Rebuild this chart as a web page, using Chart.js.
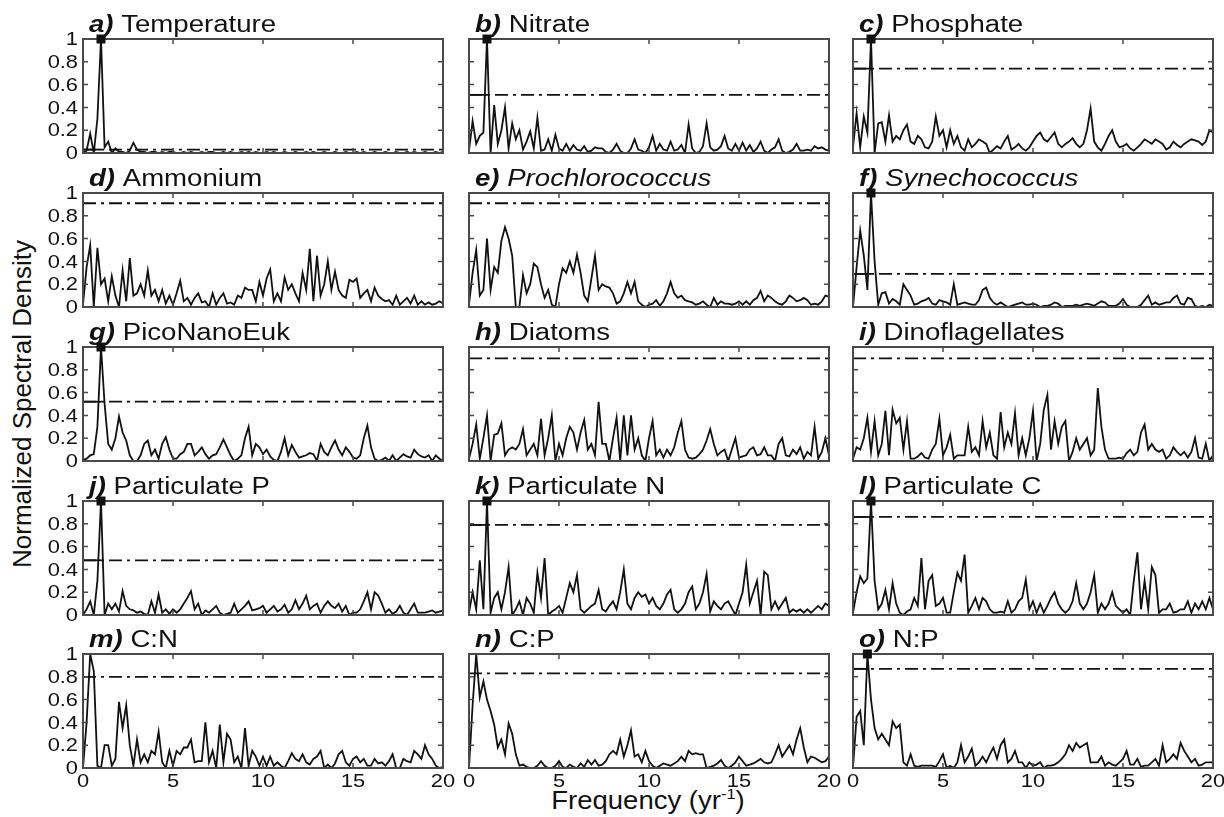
<!DOCTYPE html>
<html>
<head>
<meta charset="utf-8">
<script src="https://cdn.jsdelivr.net/npm/chart.js@4.4.0/dist/chart.umd.min.js"></script>
<style>
body { margin: 0; background: #fff; }
#wrap { position: relative; width: 1224px; height: 817px; overflow: hidden; background: #fff;
        font-family: "Liberation Sans", Arial, sans-serif; color: #111; }
#wrap canvas { position: absolute; }
#ylab { position: absolute; left: 22px; top: 404px; transform: translate(-50%, -50%) rotate(-90deg);
        font-size: 26px; white-space: nowrap; }
#xlab { position: absolute; left: 648px; top: 800px; transform: translate(-50%, -50%) scaleX(1.1);
        font-size: 25px; white-space: nowrap; }
#xlab sup { font-size: 15px; }
</style>
</head>
<body>
<div id="wrap">
  <div id="ylab">Normalized Spectral Density</div>
  <div id="xlab">Frequency (yr<sup>-1</sup>)</div>
</div>
<script>
// frequency grid (yr^-1)
const FREQ = [
  0, 0.2, 0.4, 0.6, 0.8, 1, 1.2, 1.4, 1.6, 1.8,
  2, 2.2, 2.4, 2.6, 2.8, 3, 3.2, 3.4, 3.6, 3.8,
  4, 4.2, 4.4, 4.6, 4.8, 5, 5.2, 5.4, 5.6, 5.8,
  6, 6.2, 6.4, 6.6, 6.8, 7, 7.2, 7.4, 7.6, 7.8,
  8, 8.2, 8.4, 8.6, 8.8, 9, 9.2, 9.4, 9.6, 9.8,
  10, 10.2, 10.4, 10.6, 10.8, 11, 11.2, 11.4, 11.6, 11.8,
  12, 12.2, 12.4, 12.6, 12.8, 13, 13.2, 13.4, 13.6, 13.8,
  14, 14.2, 14.4, 14.6, 14.8, 15, 15.2, 15.4, 15.6, 15.8,
  16, 16.2, 16.4, 16.6, 16.8, 17, 17.2, 17.4, 17.6, 17.8,
  18, 18.2, 18.4, 18.6, 18.8, 19, 19.2, 19.4, 19.6, 19.8,
  20
];

const temperature = [
  0, 0.02, 0.17, 0, 0.3, 1, 0.05, 0.1, 0, 0.04,
  0.01, 0.01, 0, 0.02, 0.09, 0.03, 0.01, 0.01, 0, 0.01,
  0.01, 0, 0.01, 0, 0.01, 0.01, 0, 0, 0.01, 0,
  0.01, 0, 0, 0.01, 0, 0.01, 0.01, 0, 0, 0.01,
  0, 0.01, 0, 0, 0.01, 0, 0.01, 0, 0.01, 0,
  0, 0.01, 0, 0.01, 0, 0, 0.01, 0, 0, 0.01,
  0, 0, 0.01, 0, 0.01, 0, 0, 0.01, 0, 0,
  0.01, 0, 0, 0.01, 0, 0, 0.01, 0, 0.01, 0,
  0, 0.01, 0, 0, 0.01, 0, 0, 0.01, 0, 0,
  0.01, 0, 0.01, 0, 0, 0.01, 0, 0, 0.01, 0,
  0.01
];
const nitrate = [
  0.02, 0.28, 0.08, 0.15, 0.18, 1, 0, 0.42, 0.08, 0.2,
  0.4, 0.04, 0.26, 0.12, 0.2, 0.03, 0.1, 0.19, 0.04, 0.31,
  0.02, 0.03, 0.12, 0.02, 0.16, 0.04, 0.02, 0.08, 0.02, 0.07,
  0.03, 0.02, 0.06, 0.01, 0.02, 0.05, 0.04, 0.04, 0.01, 0,
  0.03, 0.08, 0.02, 0, 0, 0.04, 0.12, 0.03, 0.02, 0,
  0.05, 0.15, 0.02, 0.08, 0.03, 0.02, 0.1, 0.02, 0.03, 0.07,
  0, 0.25, 0.04, 0, 0.01, 0.06, 0.26, 0.05, 0.02, 0.03,
  0.06, 0.15, 0.04, 0.02, 0.08, 0.02, 0.09, 0.02, 0.07, 0.01,
  0.04, 0.1, 0.02, 0, 0.03, 0.05, 0.12, 0.02, 0, 0.01,
  0.03, 0.08, 0.02, 0.02, 0.03, 0.02, 0.06, 0.04, 0.05, 0.03,
  0.02
];
const phosphate = [
  0.05, 0.35, 0.05, 0.32, 0.18, 1, 0, 0.26, 0.27, 0.1,
  0.33, 0.1, 0.15, 0.12, 0.2, 0.25, 0.1, 0.08, 0.15, 0.12,
  0.05, 0.04, 0.1, 0.32, 0.15, 0.2, 0.05, 0.2, 0.08, 0.15,
  0.05, 0.02, 0.12, 0.05, 0.08, 0.12, 0.1, 0.08, 0, 0.03,
  0.06, 0.04, 0.1, 0.15, 0.03, 0.05, 0.08, 0.04, 0.02, 0.05,
  0.1, 0.15, 0.18, 0.12, 0.1, 0.14, 0.18, 0.08, 0.05, 0.08,
  0.1, 0.13, 0.08, 0.05, 0.08, 0.2, 0.39, 0.1, 0.05, 0.02,
  0.08, 0.15, 0.2, 0.1, 0.05, 0.06, 0.08, 0.04, 0.02, 0.05,
  0.08, 0.12, 0.1, 0.08, 0.12, 0.1, 0.08, 0.03, 0.05, 0.1,
  0.07, 0.05, 0.08, 0.1, 0.12, 0.11, 0.1, 0.07, 0.1, 0.2,
  0.18
];
const ammonium = [
  0.02, 0.35, 0.54, 0, 0.52, 0.2, 0.25, 0.05, 0.27, 0.1,
  0, 0.32, 0.05, 0.43, 0.1, 0.12, 0.2, 0.1, 0.32, 0.1,
  0.15, 0.05, 0.15, 0.03, 0.1, 0.02, 0.12, 0.23, 0.05, 0.08,
  0.02, 0.08, 0.12, 0.04, 0.05, 0, 0.12, 0.02, 0.08, 0.12,
  0.03, 0.04, 0.02, 0.1, 0.08, 0.17, 0.15, 0.15, 0.05, 0.22,
  0.1, 0.25, 0.33, 0.05, 0.12, 0.05, 0.26, 0.15, 0.2, 0.12,
  0.05, 0.3, 0.15, 0.51, 0.05, 0.45, 0.1, 0.2, 0.4, 0.15,
  0.31, 0.15, 0.1, 0.08, 0.24, 0.22, 0.25, 0.08, 0.12, 0.15,
  0.05, 0.17, 0.1, 0.07, 0.05, 0.06, 0.02, 0.1, 0.02, 0.05,
  0.08, 0.03, 0.1, 0.02, 0.05, 0.02, 0.04, 0.02, 0.03, 0.05,
  0.03
];
const prochlorococcus = [
  0.02, 0.3, 0.5, 0.1, 0.15, 0.6, 0.15, 0.35, 0.3, 0.58,
  0.7, 0.6, 0.45, 0, 0, 0.28, 0.12, 0.2, 0.38, 0.35,
  0.2, 0.08, 0.15, 0.02, 0, 0.2, 0.34, 0.3, 0.4, 0.3,
  0.46, 0.3, 0.1, 0.05, 0.25, 0.45, 0.15, 0.2, 0.18, 0.17,
  0.12, 0.03, 0.05, 0.12, 0.22, 0.12, 0.22, 0.05, 0.02, 0,
  0.02, 0.03, 0.06, 0.01, 0.05, 0.12, 0.22, 0.12, 0.08, 0.1,
  0.06, 0.05, 0.04, 0.02, 0.03, 0.05, 0.02, 0, 0.08, 0.02,
  0.05, 0.03, 0.03, 0.02, 0.03, 0.05, 0.02, 0.05, 0.02, 0.06,
  0.08, 0.14, 0.05, 0.1, 0.08, 0.05, 0.03, 0.02, 0.05, 0.1,
  0.08, 0.05, 0.06, 0.08, 0.06, 0.02, 0.03, 0.02, 0.05, 0.1,
  0.09
];
const synechococcus = [
  0, 0.35, 0.67, 0.45, 0.15, 1, 0.4, 0.02, 0.12, 0.13,
  0.03, 0.07, 0.05, 0.02, 0.2, 0.15, 0.1, 0.02, 0.03, 0.05,
  0.06, 0.08, 0.03, 0.02, 0.06, 0.05, 0.04, 0.02, 0.2, 0.02,
  0.03, 0.04, 0.03, 0.02, 0.02, 0.06, 0.15, 0.17, 0.08, 0.04,
  0.02, 0.04, 0.02, 0, 0.01, 0.02, 0.03, 0.04, 0.02, 0.02,
  0.03, 0.02, 0, 0.01, 0.01, 0.02, 0.04, 0.03, 0, 0.01,
  0.01, 0.01, 0.02, 0.01, 0.02, 0.03, 0.02, 0.01, 0.03, 0.05,
  0.04, 0.01, 0.01, 0.01, 0.03, 0.07, 0.02, 0, 0, 0,
  0.02, 0.06, 0.1, 0.02, 0.04, 0.02, 0.03, 0.04, 0.04, 0.08,
  0.1, 0.03, 0.02, 0.08, 0.07, 0.01, 0, 0.01, 0, 0.02,
  0.01
];
const picoNanoEuk = [
  0.01, 0.02, 0.05, 0.06, 0.3, 1, 0.5, 0.15, 0.1, 0.2,
  0.39, 0.25, 0.18, 0.05, 0, 0, 0.05, 0.15, 0.18, 0.05,
  0.1, 0.02, 0.15, 0.21, 0.1, 0.02, 0.02, 0.06, 0.08, 0.15,
  0.15, 0.05, 0.08, 0.12, 0.06, 0.02, 0.05, 0.06, 0.12, 0.19,
  0.12, 0.05, 0, 0.02, 0.05, 0.2, 0.3, 0.05, 0.15, 0.12,
  0.06, 0.1, 0.04, 0.01, 0, 0.08, 0.2, 0.05, 0.14, 0.08,
  0.03, 0.04, 0.05, 0.07, 0.06, 0, 0.15, 0.08, 0.05, 0.12,
  0.18, 0.1, 0.05, 0.12, 0.08, 0.03, 0.02, 0.05, 0.2, 0.31,
  0.12, 0.02, 0, 0.01, 0.03, 0, 0.05, 0, 0.03, 0.06,
  0.04, 0.03, 0.1, 0.06, 0.04, 0.03, 0.05, 0, 0.05, 0.02,
  0
];
const diatoms = [
  0.02, 0.15, 0.32, 0.02, 0.2, 0.4, 0, 0.23, 0.24, 0.33,
  0.05, 0.1, 0.12, 0.1, 0.15, 0.28, 0.05, 0.1, 0.15, 0.05,
  0.37, 0.05, 0.2, 0.4, 0, 0.15, 0.05, 0.2, 0.3, 0.25,
  0.1, 0.25, 0.36, 0.1, 0.15, 0.05, 0.52, 0.15, 0.15, 0,
  0.2, 0.38, 0, 0.4, 0.05, 0.4, 0.1, 0.2, 0.05, 0,
  0.2, 0.35, 0.05, 0.1, 0.03, 0.1, 0.05, 0.12, 0.25, 0.35,
  0.1, 0.03, 0.02, 0.03, 0.06, 0.1, 0.18, 0.28, 0.15, 0.05,
  0.08, 0.1, 0, 0.1, 0.2, 0.03, 0.04, 0.05, 0.1, 0.12,
  0.05, 0.06, 0.12, 0.05, 0.05, 0, 0.15, 0.2, 0.05, 0.04,
  0.1, 0.06, 0.12, 0.02, 0.08, 0.05, 0.3, 0.02, 0.08, 0.2,
  0.05
];
const dinoflagellates = [
  0.02, 0.12, 0.1, 0.2, 0.38, 0.08, 0.35, 0.05, 0.15, 0.44,
  0.05, 0.45, 0.33, 0.38, 0.1, 0.35, 0.02, 0.02, 0.04, 0.07,
  0.03, 0.02, 0.1, 0.15, 0.37, 0.05, 0.12, 0.23, 0.02, 0.05,
  0.05, 0.05, 0.3, 0.08, 0.12, 0.05, 0.35, 0.12, 0.25, 0.05,
  0.02, 0.43, 0.12, 0.25, 0.15, 0.42, 0.05, 0.2, 0.05, 0.2,
  0.44, 0, 0.15, 0.45, 0.58, 0.1, 0.35, 0.15, 0.3, 0.35,
  0, 0.08, 0.2, 0.1, 0.15, 0.2, 0.05, 0.1, 0.64, 0.3,
  0.1, 0.02, 0.02, 0.02, 0.03, 0.02, 0.07, 0.1, 0.05, 0.08,
  0.25, 0.32, 0.1, 0.15, 0.1, 0.08, 0.1, 0.02, 0.05, 0.12,
  0.08, 0.05, 0.08, 0.03, 0.08, 0.2, 0.03, 0.02, 0.15, 0,
  0.05
];
const particulateP = [
  0, 0.05, 0.12, 0, 0.3, 1, 0, 0.1, 0.05, 0.1,
  0.03, 0.21, 0.08, 0.05, 0.04, 0.02, 0.03, 0.01, 0, 0.12,
  0.02, 0.18, 0.02, 0.05, 0.01, 0.05, 0.02, 0.05, 0.1, 0.15,
  0.21, 0.05, 0.1, 0, 0.04, 0.02, 0.05, 0.08, 0.02, 0,
  0.01, 0.02, 0.1, 0.02, 0.05, 0.08, 0.12, 0.04, 0.05, 0.06,
  0.08, 0.02, 0.05, 0.08, 0.03, 0.05, 0.09, 0.02, 0.05, 0.13,
  0.05, 0.1, 0.17, 0.05, 0.08, 0.1, 0.02, 0.08, 0.12, 0.08,
  0.06, 0.1, 0.03, 0.08, 0, 0.02, 0.02, 0.05, 0.12, 0.2,
  0.05, 0.2, 0.17, 0.1, 0.02, 0.05, 0.01, 0.03, 0.08, 0.02,
  0, 0.05, 0.1, 0.02, 0.02, 0.02, 0.03, 0.04, 0.02, 0.03,
  0.04
];
const particulateN = [
  0.02, 0.2, 0.05, 0.48, 0.05, 1, 0.02, 0.15, 0.2, 0.05,
  0.2, 0.42, 0, 0.05, 0.12, 0, 0.15, 0.1, 0.02, 0.37,
  0.15, 0.5, 0, 0.03, 0.05, 0.08, 0.02, 0.15, 0.28, 0.2,
  0.35, 0.05, 0.02, 0.05, 0.08, 0.1, 0.22, 0.05, 0.03, 0.08,
  0.12, 0.05, 0.2, 0.4, 0.1, 0.05, 0.15, 0.2, 0.16, 0.18,
  0.1, 0.15, 0.08, 0.05, 0.1, 0.18, 0.22, 0.05, 0.02, 0.05,
  0.1, 0.2, 0.25, 0.05, 0.1, 0.2, 0.36, 0.03, 0.12, 0.08,
  0.05, 0.1, 0.12, 0.06, 0, 0.1, 0.2, 0.44, 0.1, 0.2,
  0.3, 0, 0.38, 0.35, 0.05, 0.12, 0.05, 0.1, 0.15, 0.02,
  0.05, 0.03, 0.05, 0.02, 0.05, 0.02, 0.05, 0.08, 0.05, 0.1,
  0.08
];
const particulateC = [
  0.02, 0.2, 0.34, 0.28, 0.32, 1, 0.3, 0.05, 0.1, 0.22,
  0.05, 0.28, 0.1, 0.02, 0, 0.03, 0.05, 0.15, 0.08, 0.5,
  0.05, 0.3, 0.35, 0.08, 0.1, 0.15, 0.02, 0.02, 0.2, 0.37,
  0.3, 0.53, 0.02, 0.08, 0.15, 0.05, 0.15, 0.12, 0.05, 0.02,
  0.02, 0.03, 0.02, 0.12, 0.02, 0.05, 0.12, 0.15, 0.31, 0.05,
  0.12, 0.02, 0.1, 0.02, 0.08, 0.15, 0.2, 0.1, 0.05, 0.02,
  0.05, 0.12, 0.28, 0.1, 0.05, 0.1, 0.2, 0.35, 0.02, 0.1,
  0.05, 0.1, 0.2, 0.08, 0.05, 0.02, 0.05, 0, 0.3, 0.55,
  0.05, 0.3, 0.05, 0.42, 0.35, 0.02, 0.05, 0.05, 0.1, 0.02,
  0.03, 0.05, 0.05, 0.12, 0.02, 0.1, 0.05, 0.12, 0.05, 0.15,
  0.05
];
const ratioCN = [
  0, 0.4, 1, 0.85, 0.02, 0, 0.2, 0.2, 0.02, 0.08,
  0.58, 0.35, 0.55, 0.2, 0.02, 0.25, 0.05, 0.12, 0.05, 0.15,
  0.12, 0.32, 0.05, 0, 0.15, 0.02, 0.15, 0.12, 0.18, 0.18,
  0.25, 0.05, 0.06, 0.06, 0.4, 0.05, 0.15, 0, 0.38, 0.05,
  0.3, 0.25, 0.05, 0.1, 0, 0.35, 0.02, 0.15, 0.1, 0.02,
  0.1, 0.02, 0.1, 0.02, 0.05, 0.02, 0, 0.06, 0.13, 0.08,
  0.06, 0.12, 0.05, 0.03, 0.08, 0.1, 0.15, 0, 0.03, 0,
  0.04, 0.12, 0.15, 0.05, 0.02, 0.08, 0.1, 0.05, 0.08, 0.02,
  0.02, 0.08, 0.04, 0.05, 0.02, 0.06, 0.12, 0, 0, 0.08,
  0.06, 0.05, 0.15, 0.12, 0.08, 0.2, 0.12, 0.08, 0.02, 0,
  0.01
];
const ratioCP = [
  0, 0.55, 1, 0.62, 0.76, 0.6, 0.5, 0.38, 0.18, 0.25,
  0.12, 0.39, 0.3, 0.12, 0.02, 0.03, 0.01, 0, 0, 0.02,
  0.06, 0.02, 0, 0, 0.02, 0.06, 0.01, 0, 0.03, 0.01,
  0, 0.04, 0.01, 0.07, 0.03, 0.07, 0.02, 0.03, 0.06, 0.12,
  0.15, 0.12, 0.25, 0.1, 0.2, 0.33, 0.1, 0.12, 0.05, 0.15,
  0.06, 0.02, 0, 0.02, 0.04, 0.03, 0.02, 0.04, 0.06, 0.1,
  0.06, 0.15, 0.12, 0.13, 0.12, 0.12, 0, 0.01, 0.02, 0.04,
  0.07, 0.02, 0, 0.02, 0.05, 0.1, 0.06, 0.02, 0.03, 0.04,
  0.06, 0.08, 0.05, 0.04, 0.05, 0.12, 0.2, 0.1, 0.15, 0.2,
  0.12, 0.25, 0.35, 0.18, 0.05, 0.1, 0.09, 0.07, 0.05, 0.06,
  0.1
];
const ratioNP = [
  0, 0.45, 0.5, 0.2, 1, 0.6, 0.35, 0.25, 0.3, 0.25,
  0.2, 0.41, 0.35, 0.38, 0.05, 0.02, 0.12, 0.02, 0.01, 0.02,
  0.02, 0.02, 0.02, 0.01, 0.06, 0.12, 0, 0.02, 0, 0.05,
  0.2, 0.05, 0.1, 0.17, 0.02, 0.05, 0.1, 0.05, 0.12, 0.18,
  0.08, 0.2, 0.25, 0.05, 0.08, 0.15, 0.05, 0.05, 0, 0.05,
  0.02, 0.03, 0.05, 0, 0.02, 0.02, 0.03, 0.05, 0.08, 0.12,
  0.2, 0.15, 0.22, 0.18, 0.2, 0.22, 0.05, 0.05, 0.05, 0.1,
  0.02, 0.05, 0.03, 0.02, 0.05, 0.08, 0.15, 0.03, 0.03, 0.08,
  0.01, 0.02, 0.02, 0.05, 0.08, 0.02, 0.2, 0.05, 0.08, 0.12,
  0.08, 0.22, 0.15, 0.1, 0.05, 0.08, 0.02, 0.03, 0.05, 0.05,
  0.05
];

const SERIES = [temperature, nitrate, phosphate, ammonium, prochlorococcus, synechococcus,
                picoNanoEuk, diatoms, dinoflagellates, particulateP, particulateN, particulateC,
                ratioCN, ratioCP, ratioNP];
const LETTERS = ['a)', 'b)', 'c)', 'd)', 'e)', 'f)', 'g)', 'h)', 'i)', 'j)', 'k)', 'l)', 'm)', 'n)', 'o)'];
const NAMES = ['Temperature', 'Nitrate', 'Phosphate', 'Ammonium', 'Prochlorococcus', 'Synechococcus',
               'PicoNanoEuk', 'Diatoms', 'Dinoflagellates', 'Particulate P', 'Particulate N', 'Particulate C',
               'C:N', 'C:P', 'N:P'];
const ITALIC_NAME = [false, false, false, false, true, true, false, false, false, false, false, false, false, false, false];
// significance level (dash-dot line)
const SIG_LEVEL = [0.03, 0.51, 0.74, 0.91, 0.91, 0.29, 0.52, 0.9, 0.9, 0.48, 0.79, 0.86, 0.8, 0.83, 0.87];
// panels with a marked dominant (annual) peak
const PEAK_MARK = [true, true, true, false, false, true, true, false, false, true, true, true, false, false, true];
const X_TICKS = [0, 5, 10, 15, 20];
const Y_TICKS = [0, 0.2, 0.4, 0.6, 0.8, 1];

// layout
const COL_LEFT = [83, 469, 853];
const ROW_TOP = [39, 193, 347, 501, 654];
const FRAME_W = 360, FRAME_H = 114;
const PAD_L = 50, PAD_T = 34, PAD_R = 12, PAD_B = 30;
const FONT = '"Liberation Sans", Arial, sans-serif';
const TITLE_PX = 23, TITLE_STRETCH = 1.2;
const TICK_PX = 19, TICK_STRETCH = 1.15;

function stretchedText(ctx, text, x, y, font, stretch, align, baseline)
{
    ctx.save();
    ctx.translate(x, y);
    ctx.scale(stretch, 1);
    ctx.font = font;
    ctx.textAlign = align;
    ctx.textBaseline = baseline;
    ctx.fillText(text, 0, 0);
    ctx.restore();
}

const framePlugin = {
    id: 'frame',
    afterDraw(chart, args, opts)
    {
        const ctx = chart.ctx;
        const a = chart.chartArea;
        const xs = chart.scales.x, ys = chart.scales.y;
        ctx.save();
        ctx.strokeStyle = '#4a4a4a';
        ctx.lineWidth = 2;
        ctx.strokeRect(a.left, a.top, a.right - a.left, a.bottom - a.top);

        // inward ticks on all four sides
        ctx.lineWidth = 1.5;
        ctx.beginPath();
        X_TICKS.slice(1, -1).forEach(v => {
            const px = xs.getPixelForValue(v);
            ctx.moveTo(px, a.top); ctx.lineTo(px, a.top + 5);
            ctx.moveTo(px, a.bottom); ctx.lineTo(px, a.bottom - 5);
        });
        Y_TICKS.slice(1, -1).forEach(v => {
            const py = ys.getPixelForValue(v);
            ctx.moveTo(a.left, py); ctx.lineTo(a.left + 5, py);
            ctx.moveTo(a.right, py); ctx.lineTo(a.right - 5, py);
        });
        ctx.stroke();

        // peak marker
        ctx.fillStyle = '#111';
        if (opts.peak)
        {
            const px = xs.getPixelForValue(opts.peak.x), py = ys.getPixelForValue(opts.peak.y);
            ctx.fillRect(px - 4.5, py - 4.5, 9, 9);
        }

        // tick labels
        const tickFont = TICK_PX + 'px ' + FONT;
        if (opts.showY)
        {
            Y_TICKS.forEach(v => {
                stretchedText(ctx, String(v), a.left - 5, ys.getPixelForValue(v) + 1,
                              tickFont, TICK_STRETCH, 'right', 'middle');
            });
        }
        if (opts.showX)
        {
            X_TICKS.forEach(v => {
                stretchedText(ctx, String(v), xs.getPixelForValue(v), a.bottom + 4,
                              tickFont, TICK_STRETCH, 'center', 'top');
            });
        }

        // panel title
        ctx.translate(a.left + 6, a.top - 7);
        ctx.scale(TITLE_STRETCH, 1);
        ctx.textBaseline = 'alphabetic';
        ctx.textAlign = 'left';
        ctx.font = 'italic bold ' + TITLE_PX + 'px ' + FONT;
        ctx.fillText(opts.letter, 0, 0);
        const w = ctx.measureText(opts.letter + ' ').width;
        ctx.font = (opts.italic ? 'italic ' : '') + TITLE_PX + 'px ' + FONT;
        ctx.fillText(opts.name, w, 0);
        ctx.restore();
    }
};

function peakIndex(values)
{
    let best = 0;
    values.forEach((v, i) => { if (v > values[best]) best = i; });
    return best;
}

function makePanel(i)
{
    const col = i % 3, row = Math.floor(i / 3);
    const values = SERIES[i];
    const sig = SIG_LEVEL[i];
    const pk = peakIndex(values);

    const canvas = document.createElement('canvas');
    const cw = PAD_L + FRAME_W + PAD_R, ch = PAD_T + FRAME_H + PAD_B;
    canvas.width = cw; canvas.height = ch;
    canvas.style.width = cw + 'px'; canvas.style.height = ch + 'px';
    canvas.style.left = (COL_LEFT[col] - PAD_L) + 'px';
    canvas.style.top = (ROW_TOP[row] - PAD_T) + 'px';
    document.getElementById('wrap').appendChild(canvas);

    const datasets = [
        {
            data: values.map((v, k) => ({x: FREQ[k], y: v})),
            borderColor: '#111', borderWidth: 1.8, pointRadius: 0, tension: 0, order: 1
        },
        {
            data: [{x: 0, y: sig}, {x: 20, y: sig}],
            borderColor: '#111', borderWidth: 1.8, borderDash: [13, 5, 3, 5],
            pointRadius: 0, order: 2
        }
    ];
    if (PEAK_MARK[i])
    {
        datasets.push({
            data: [{x: 0, y: sig}, {x: FREQ[pk], y: sig}],
            borderColor: '#111', borderWidth: 1.8, pointRadius: 0, order: 2
        });
    }

    new Chart(canvas, {
        type: 'line',
        data: {datasets: datasets},
        options: {
            responsive: false,
            animation: false,
            devicePixelRatio: 1,
            layout: {padding: {left: 0, top: PAD_T, right: PAD_R, bottom: 0}},
            plugins: {
                legend: {display: false},
                tooltip: {enabled: false},
                frame: {
                    letter: LETTERS[i], name: NAMES[i], italic: ITALIC_NAME[i],
                    showX: row === 4, showY: col === 0,
                    peak: PEAK_MARK[i] ? {x: FREQ[pk], y: values[pk]} : null
                }
            },
            scales: {
                x: {
                    type: 'linear', min: 0, max: 20,
                    afterBuildTicks: s => { s.ticks = X_TICKS.map(v => ({value: v})); },
                    ticks: {display: false},
                    grid: {display: false, drawTicks: false},
                    border: {display: false},
                    afterFit: s => { s.height = PAD_B; s.paddingLeft = 0; s.paddingRight = 0; }
                },
                y: {
                    min: 0, max: 1,
                    afterBuildTicks: s => { s.ticks = Y_TICKS.map(v => ({value: v})); },
                    ticks: {display: false},
                    grid: {display: false, drawTicks: false},
                    border: {display: false},
                    afterFit: s => { s.width = PAD_L; s.paddingTop = 0; s.paddingBottom = 0; }
                }
            }
        },
        plugins: [framePlugin]
    });
}

for (let i = 0; i < SERIES.length; i++) makePanel(i);
</script>
</body>
</html>
